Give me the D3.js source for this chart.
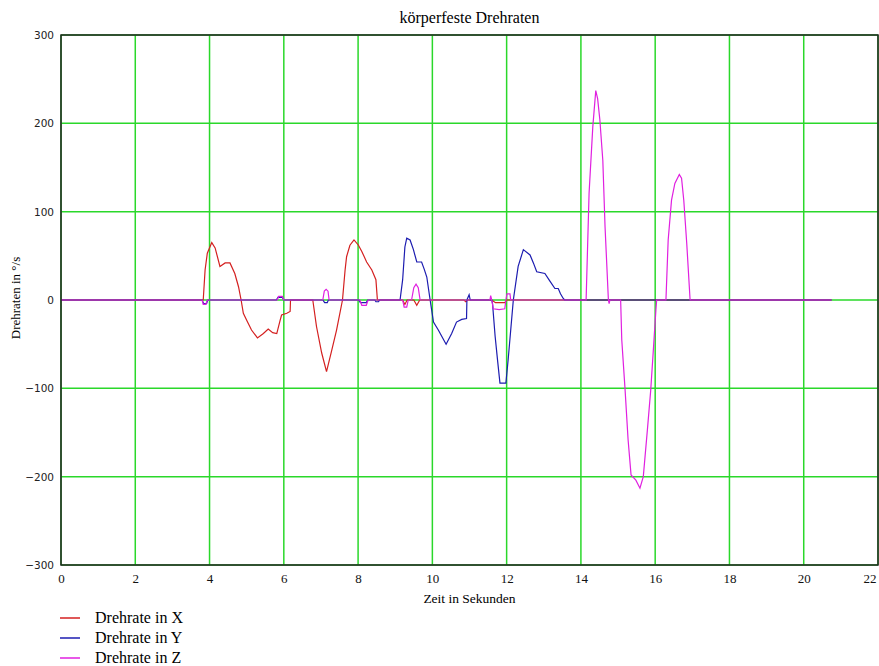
<!DOCTYPE html>
<html>
<head>
<meta charset="utf-8">
<script src="https://cdn.jsdelivr.net/npm/d3@7"></script>
<style>
  body { margin: 0; background: #fff; }
</style>
</head>
<body>
<div id="my_dataviz"></div>
<script>
// axis ticks
var xTicks = [0, 2, 4, 6, 8, 10, 12, 14, 16, 18, 20, 22];
var yTicks = [-300, -200, -100, 0, 100, 200, 300];

// Drehrate in X (red)
var timeX = [0, 3.80, 3.83, 3.88, 3.94, 4.06, 4.15, 4.28, 4.42, 4.55, 4.68, 4.78, 4.85, 4.91, 5.00, 5.13, 5.29, 5.45, 5.58, 5.70, 5.81, 5.90, 5.94, 6.08, 6.17, 6.18,
  6.78, 6.88, 7.02, 7.15, 7.29, 7.42, 7.58, 7.65, 7.69, 7.78, 7.89, 8.01, 8.10, 8.23, 8.37, 8.48, 8.52,
  9.20, 9.26, 9.32, 9.50, 9.58, 9.66, 10.85, 10.90, 10.95, 11.60, 11.70, 11.95, 12.00, 20.75];
var rateX = [0, 0, 0, 34, 53, 65, 59, 38, 42, 42, 30, 15, 0, -15, -23, -34, -43, -38, -33, -37, -38, -23, -17, -15, -13, 0,
  0, -30, -60, -81, -57, -34, 0, 34, 49, 62, 68, 62, 55, 43, 34, 23, 0,
  0, -5, 0, 0, -6, 0, 0, -2, 0, 0, -3, -3, 0, 0];

// Drehrate in Y (blue)
var timeY = [0, 3.80, 3.84, 3.92, 3.95, 5.80, 5.84, 5.96, 6.00, 7.05, 7.10, 7.17, 7.20, 8.02, 8.06, 8.22, 8.26, 8.45, 8.48, 8.55, 8.58,
  9.13, 9.20, 9.26, 9.31, 9.40, 9.49, 9.58, 9.71, 9.78, 9.85, 9.94, 10.03, 10.16, 10.37, 10.52, 10.65, 10.79, 10.92, 10.93, 10.99, 11.02,
  11.60, 11.62, 11.69, 11.76, 11.82, 11.98, 12.04, 12.11, 12.18, 12.31, 12.45, 12.63, 12.72, 12.81, 13.03, 13.17, 13.30, 13.39, 13.45, 13.52, 13.56, 20.75];
var rateY = [0, 0, -4, -4, 0, 0, 3, 3, 0, 0, -3, -3, 0, 0, -3, -3, 0, 0, -2, -2, 0,
  0, 23, 60, 70, 68, 57, 43, 43, 35, 26, 0, -25, -34, -50, -38, -25, -22, -21, 0, 6, 0,
  0, -4, -41, -70, -94, -94, -68, -34, 0, 38, 57, 51, 42, 32, 30, 21, 13, 13, 7, 2, 0, 0];

// Drehrate in Z (magenta)
var timeZ = [0, 3.80, 3.83, 3.90, 3.94, 5.82, 5.86, 5.96, 6.00, 7.05, 7.09, 7.14, 7.19, 7.22, 8.05, 8.10, 8.22, 8.27,
  9.20, 9.24, 9.31, 9.35, 9.44, 9.50, 9.56, 9.62, 9.67, 11.55, 11.57, 11.60, 11.64, 11.80, 11.95, 11.98, 12.01, 12.09, 12.11,
  14.14, 14.22, 14.32, 14.40, 14.45, 14.51, 14.59, 14.65, 14.74, 14.76, 14.78,
  15.07, 15.10, 15.19, 15.27, 15.35, 15.48, 15.59, 15.68, 15.79, 15.88, 15.95, 16.02, 16.04,
  16.29, 16.35, 16.44, 16.53, 16.65, 16.71, 16.77, 16.85, 16.94, 20.75];
var rateZ = [0, 0, -5, -5, 0, 0, 4, 4, 0, 0, 10, 12, 10, 0, 0, -6, -6, 0,
  0, -8, -8, 0, 0, 14, 18, 14, 0, 0, 5, 0, -10, -11, -10, 0, 7, 7, 0,
  0, 121, 196, 237, 228, 204, 158, 83, 0, -4, 0,
  0, -45, -102, -158, -198, -204, -213, -200, -147, -102, -57, -11, 0,
  0, 68, 113, 132, 142, 138, 113, 64, 0, 0];

var seriesNames = ["Drehrate in X", "Drehrate in Y", "Drehrate in Z"];
var seriesColors = ["#d42020", "#1c1cb0", "#e020e0"];

// set the dimensions and margins of the graph
var margin = {top: 35, right: 1, bottom: 101, left: 61},
    width = 879 - margin.left - margin.right,
    height = 666 - margin.top - margin.bottom;

var root = d3.select("#my_dataviz")
  .append("svg")
    .attr("width", 879)
    .attr("height", 666);

var svg = root.append("g")
    .attr("transform", "translate(" + margin.left + "," + margin.top + ")");

var x = d3.scaleLinear()
  .domain([0, 22])
  .range([0, width]);

var y = d3.scaleLinear()
  .domain([-300, 300])
  .range([height, 0]);

// green grid
svg.append("g")
  .selectAll("line.vg")
  .data(xTicks)
  .enter()
  .append("line")
    .attr("x1", function(d) { return x(d); })
    .attr("x2", function(d) { return x(d); })
    .attr("y1", 0)
    .attr("y2", height)
    .attr("stroke", "#2ad82a")
    .attr("stroke-width", 1.5);

svg.append("g")
  .selectAll("line.hg")
  .data(yTicks)
  .enter()
  .append("line")
    .attr("x1", 0)
    .attr("x2", width)
    .attr("y1", function(d) { return y(d); })
    .attr("y2", function(d) { return y(d); })
    .attr("stroke", "#2ad82a")
    .attr("stroke-width", 1.5);

// X axis labels
var xAxis = svg.append("g")
  .attr("transform", "translate(0," + height + ")")
  .call(d3.axisBottom(x).tickValues(xTicks).tickSize(0).tickPadding(9));
xAxis.select(".domain").remove();
xAxis.selectAll("text")
  .style("font-family", "'Liberation Serif', serif")
  .style("font-size", "13px")
  .attr("fill", "#111")
  .attr("text-anchor", function(d) { return d === 22 ? "end" : "middle"; })
  .attr("dx", function(d) { return d === 22 ? -2 : 0; });

// Y axis labels
var yAxis = svg.append("g")
  .call(d3.axisLeft(y).tickValues(yTicks).tickSize(0).tickPadding(7).tickFormat(d3.format("d")));
yAxis.select(".domain").remove();
yAxis.selectAll("text")
  .style("font-family", "'DejaVu Sans', sans-serif")
  .style("font-size", "10.5px")
  .attr("fill", "#222");

// lines
var line = d3.line()
  .x(function(d) { return x(d[0]); })
  .y(function(d) { return y(d[1]); });

var allTimes = [timeX, timeY, timeZ];
var allRates = [rateX, rateY, rateZ];

for (var i = 0; i < 3; i++) {
  var pts = allTimes[i].map(function(t, j) { return [t, allRates[i][j]]; });
  svg.append("path")
    .datum(pts)
    .attr("fill", "none")
    .attr("stroke", seriesColors[i])
    .attr("stroke-width", 1.2)
    .attr("d", line);
}

// frame
svg.append("rect")
  .attr("x", 0)
  .attr("y", 0)
  .attr("width", width)
  .attr("height", height)
  .attr("fill", "none")
  .attr("stroke", "#222")
  .attr("stroke-width", 1.5);

// title and axis titles
root.append("text")
  .attr("x", margin.left + width / 2)
  .attr("y", 23)
  .attr("text-anchor", "middle")
  .style("font-family", "'Liberation Serif', serif")
  .style("font-size", "16px")
  .text("körperfeste Drehraten");

root.append("text")
  .attr("x", margin.left + width / 2)
  .attr("y", 603)
  .attr("text-anchor", "middle")
  .style("font-family", "'Liberation Serif', serif")
  .style("font-size", "13.5px")
  .text("Zeit in Sekunden");

root.append("text")
  .attr("transform", "translate(20,298)rotate(-90)")
  .attr("text-anchor", "middle")
  .style("font-family", "'Liberation Serif', serif")
  .style("font-size", "13px")
  .text("Drehraten in °/s");

// legend
var legend = root.append("g")
  .selectAll("g")
  .data(seriesNames)
  .enter()
  .append("g")
    .attr("transform", function(d, i) { return "translate(60," + (618 + i * 20) + ")"; });

legend.append("line")
  .attr("x1", 0)
  .attr("x2", 20)
  .attr("y1", 0)
  .attr("y2", 0)
  .attr("stroke", function(d, i) { return seriesColors[i]; })
  .attr("stroke-width", 1.5);

legend.append("text")
  .attr("x", 35)
  .attr("y", 5)
  .style("font-family", "'Liberation Serif', serif")
  .style("font-size", "16px")
  .text(function(d) { return d; });
</script>
</body>
</html>
